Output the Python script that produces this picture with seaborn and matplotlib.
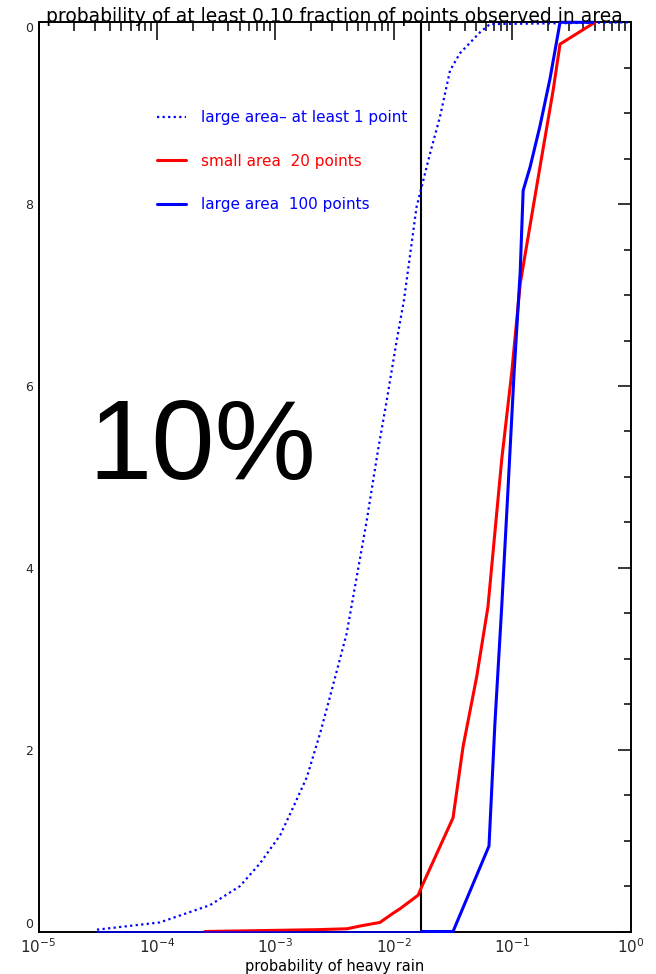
import numpy as np
import pandas as pd
import matplotlib
matplotlib.use("Agg")
import matplotlib.pyplot as plt
from matplotlib.ticker import FixedLocator, LogLocator, NullFormatter
import seaborn as sns

# ---------------- data ----------------
# large area - at least 1 point (dotted blue)
p_any = [3.12e-5, 1.06e-4, 2.81e-4, 5.04e-4, 7.43e-4, 1.10e-3, 1.41e-3, 1.85e-3,
         2.39e-3, 2.84e-3, 4.01e-3, 5.92e-3, 7.36e-3, 8.73e-3, 1.06e-2, 1.22e-2,
         1.56e-2, 2.03e-2, 2.46e-2, 2.99e-2, 3.63e-2, 5.36e-2, 6.50e-2, 1.0]
f_any = [0.002, 0.010, 0.029, 0.050, 0.075, 0.106, 0.136, 0.170,
         0.218, 0.254, 0.328, 0.452, 0.529, 0.584, 0.650, 0.694,
         0.797, 0.856, 0.896, 0.947, 0.966, 0.989, 0.998, 1.0]

# small area 20 points (red)
p_small = [2.55e-4, 2.25e-3, 4.04e-3, 5.19e-3, 7.66e-3, 9.86e-3, 1.13e-2,
           1.61e-2, 1.72e-2, 3.17e-2, 3.85e-2, 5.02e-2, 6.25e-2, 8.17e-2,
           9.93e-2, 0.117, 0.129, 0.172, 0.222, 0.254, 0.501]
f_small = [0.0, 0.002, 0.003, 0.006, 0.010, 0.020, 0.025,
           0.040, 0.049, 0.125, 0.203, 0.280, 0.357, 0.519,
           0.615, 0.712, 0.745, 0.841, 0.925, 0.976, 1.0]

# large area 100 points (solid blue)
p_large = [3.12e-5, 1.73e-2, 3.17e-2, 6.38e-2, 7.16e-2, 8.17e-2, 9.23e-2,
           0.104, 0.117, 0.124, 0.142, 0.172, 0.209, 0.254, 0.483]
f_large = [0.0, 0.0, 0.0, 0.094, 0.229, 0.357, 0.486,
           0.615, 0.725, 0.815, 0.841, 0.886, 0.938, 1.0, 1.0]

threshold = 0.0169

series_labels = ["large area\u2013 at least 1 point", "small area  20 points", "large area  100 points"]
x_ticks = [1e-5, 1e-4, 1e-3, 1e-2, 1e-1, 1e0]
x_ticklabels = [r"$10^{-5}$", r"$10^{-4}$", r"$10^{-3}$", r"$10^{-2}$", r"$10^{-1}$", r"$10^{0}$"]
y_ticks = [0.0, 0.2, 0.4, 0.6, 0.8, 1.0]
y_ticklabels = ["0", "2", "4", "6", "8", "0"]

title = "probability of at least 0.10 fraction of points observed in area"
xlabel = "probability of heavy rain"
big_note = "10%"

# ---------------- figure ----------------
sns.set_theme(style="white")
plt.rcParams["font.family"] = ["DejaVu Sans"]
plt.rcParams["mathtext.fontset"] = "dejavusans"

fig = plt.figure(figsize=(6.56, 9.74), dpi=100)
L, R, B, T = 38.5 / 656, 630.5 / 656, 1 - 931.5 / 974, 1 - 22.3 / 974
ax = fig.add_axes([L, B, R - L, T - B])
ax.set_xscale("log")

BLUE = "#0000ff"
RED = "#ff0000"

df_any = pd.DataFrame({"p": p_any, "f": f_any})
df_small = pd.DataFrame({"p": p_small, "f": f_small})
df_large = pd.DataFrame({"p": p_large, "f": f_large})

common = dict(sort=False, estimator=None, clip_on=False, zorder=3)
sns.lineplot(data=df_any, x="p", y="f", ax=ax, color=BLUE, lw=1.6,
             linestyle=(0, (1, 1.5)), label=series_labels[0], **common)
sns.lineplot(data=df_small, x="p", y="f", ax=ax, color=RED, lw=2.2,
             label=series_labels[1], **common)
# flat (zero) part of the 100-points curve drawn thin, the rest thick
sns.lineplot(data=df_large.iloc[:2], x="p", y="f", ax=ax, color=BLUE, lw=1.1, **common)
sns.lineplot(data=df_large.iloc[1:], x="p", y="f", ax=ax, color=BLUE, lw=2.2,
             label=series_labels[2], **common)

ax.axvline(threshold, color="black", lw=1.5, zorder=1)

ax.set_xlim(1e-5, 1.0)
ax.set_ylim(0, 1)

ax.set_xticks(x_ticks)
ax.set_xticklabels(x_ticklabels)
ax.xaxis.set_minor_locator(LogLocator(base=10, subs=np.arange(2, 10), numticks=20))
ax.xaxis.set_minor_formatter(NullFormatter())
ax.set_yticks(y_ticks)
ax.set_yticklabels(y_ticklabels)
ax.yaxis.set_minor_locator(FixedLocator(np.arange(0, 1.0001, 0.05)))

ax.tick_params(axis="both", which="both", direction="in", top=True, right=True,
               color="black", width=1.1)
ax.tick_params(axis="x", which="major", length=13, labelsize=11, pad=4)
ax.tick_params(axis="x", which="minor", length=6.5)
ax.tick_params(axis="y", which="major", length=9.5, labelsize=9, pad=4)
ax.tick_params(axis="y", which="minor", length=5)

ylabels = ax.get_yticklabels()
ylabels[0].set_verticalalignment("bottom")
ylabels[-1].set_verticalalignment("top")

for s in ax.spines.values():
    s.set_color("black")
    s.set_linewidth(1.4)

ax.set_xlabel(xlabel, fontsize=10.5, labelpad=2, color="black")
ax.set_ylabel("")
ax.set_title(title, fontsize=13.5, pad=0, color="black")

leg = ax.legend(loc="upper left", bbox_to_anchor=(0.1997, 0.903), frameon=False,
                fontsize=11, handlelength=1.9, handletextpad=1.0, labelspacing=1.85,
                borderpad=0, borderaxespad=0)
for txt, c in zip(leg.get_texts(), [BLUE, RED, BLUE]):
    txt.set_color(c)

fig.text(202 / 656, 1 - 479 / 974, big_note, fontsize=82, family="Liberation Sans",
         ha="center", va="baseline", color="black")

fig.savefig("out.png", dpi=100, facecolor="white")
